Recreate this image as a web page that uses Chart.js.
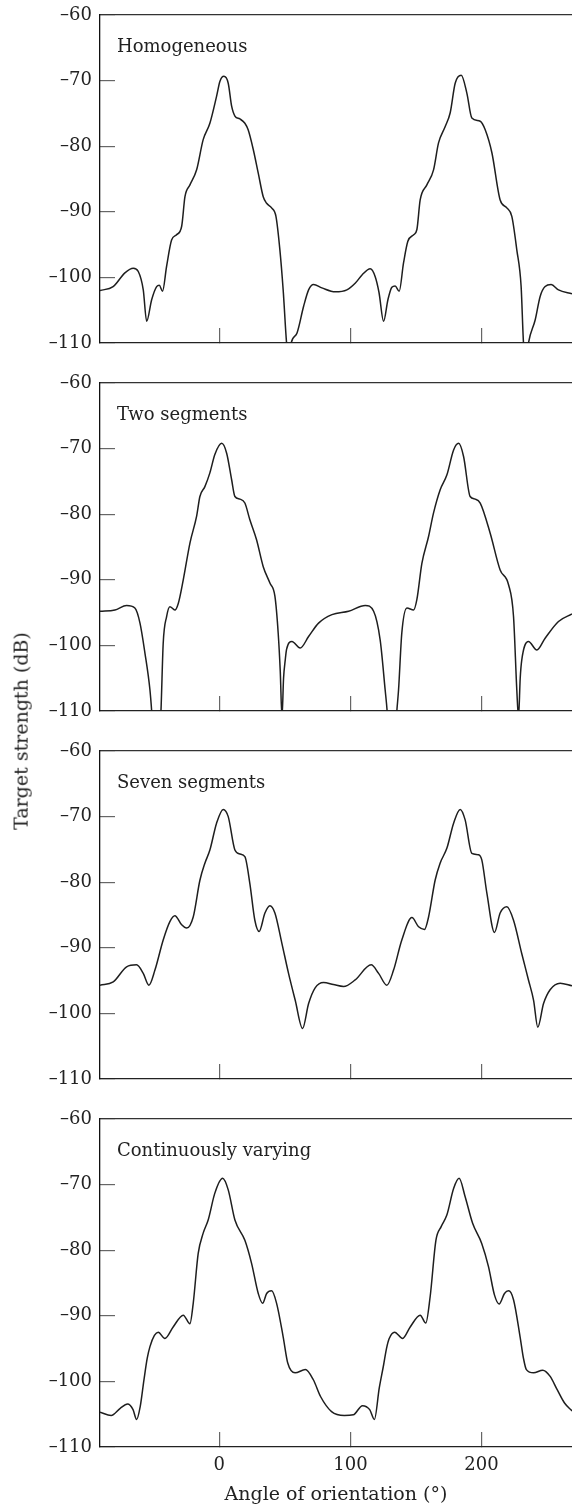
<!DOCTYPE html>
<html>
<head>
<meta charset="utf-8">
<script src="https://cdn.jsdelivr.net/npm/chart.js@4/dist/chart.umd.min.js"></script>
<style>
html,body{margin:0;padding:0;background:#fff;}
#wrap{position:relative;width:572px;height:1506px;overflow:hidden;background:#fff;}
.panel{position:absolute;left:0;}
#ytitle{position:absolute;left:21px;top:731px;transform:translate(-50%,-50%) rotate(-90deg);font:19px "DejaVu Serif",serif;color:#222;white-space:nowrap;line-height:1.2;}
</style>
</head>
<body>
<div id="wrap">
<canvas id="c0" class="panel" width="572" height="368" style="top:0px"></canvas>
<canvas id="c1" class="panel" width="572" height="368" style="top:368px"></canvas>
<canvas id="c2" class="panel" width="572" height="368" style="top:736px"></canvas>
<canvas id="c3" class="panel" width="572" height="402" style="top:1104px"></canvas>
<div id="ytitle">Target strength (dB)</div>
</div>
<script>
// ---- data (angle in degrees, target strength in dB) ----
const panelTitles = ["Homogeneous", "Two segments", "Seven segments", "Continuously varying"];
const xTickValues = [0, 100, 200];
const xTickLabels = ["0", "100", "200"];
const yTickValues = [-110, -100, -90, -80, -70, -60];
const xTitle = "Angle of orientation (\u00B0)";

const angHomog = [-91,-81,-72,-65.6,-61.8,-58,-55.4,-51.6,-47.8,-45.8,-43.3,-40.2,-36.4,-32.6,-28.7,-26.2,-22.4,-17.3,-12.3,-7.2,-2.1,0.5,3.5,6.8,9.4,11.9,15.7,19.5,22,25.9,29.7,33.5,36.1,39.9,43.2,46.2,48.7,51.3,53,54.8,59.2,64.3,68.1,71.9,78.2,88.4,97.3,103.6,109,115.1,118.9,121.8,125.3,128.6,131.6,134.1,137.2,140.5,143.8,148.2,150.7,153.2,158.3,163.4,167.2,172.3,176.1,179.9,184.5,188.8,192.6,199,202.8,207.9,214.2,219.3,223.1,226.9,230.2,232,234,235.8,240.9,244.7,248.5,253.1,258.7,269];
const tsHomog  = [-102.0,-101.4,-99.3,-98.6,-99.1,-101.9,-106.7,-103.4,-101.4,-101.2,-102.1,-98.3,-94.3,-93.5,-92.2,-87.7,-85.9,-83.6,-79.0,-76.5,-72.4,-70.1,-69.35,-70.4,-73.9,-75.4,-75.85,-76.5,-77.5,-80.5,-84.1,-87.7,-88.7,-89.4,-90.7,-95.8,-101.9,-110,-113,-110,-108.5,-104.4,-101.9,-101.1,-101.6,-102.2,-101.9,-100.9,-99.6,-98.7,-99.9,-102.3,-106.7,-103.4,-101.5,-101.3,-102.1,-97.8,-94.5,-93.5,-92.7,-88.2,-85.9,-83.6,-79.5,-77.0,-74.9,-70.4,-69.2,-71.9,-75.7,-76.2,-77.5,-81.0,-88.2,-89.4,-90.7,-95.8,-101.4,-110,-113,-110,-106.5,-102.9,-101.4,-101.1,-101.9,-102.5];

const angTwo = [-91,-79.6,-70.7,-64.4,-60.5,-56.7,-52.9,-51.6,-48,-44.5,-42.8,-40.2,-37.7,-33.9,-31.3,-27.5,-22.4,-17.3,-14.8,-11,-7.2,-3.4,1.8,5.6,9.4,11.9,15.7,19.5,23.3,28.4,33.5,38.6,42.4,44.9,46.5,47.8,49,50.3,51.3,55.4,61.7,68.1,75.7,85.9,98.6,111.3,117.7,122.7,126.5,128,131.5,135.4,136.7,139.2,143.1,148.2,150.7,154.5,159.6,163.4,168.4,173.6,178.7,182.5,186.3,191.3,195.1,199,206.6,214.2,220.6,224.4,226.9,228.2,229.5,230.7,235.8,242.2,248.5,258.7,269];
const tsTwo  = [-94.8,-94.6,-93.9,-94.3,-96.6,-101.2,-106.8,-110,-122,-110,-99.7,-95.6,-94.1,-94.6,-93.6,-90.0,-84.4,-80.3,-77.3,-75.8,-73.7,-70.9,-69.2,-70.7,-74.75,-77.3,-77.7,-78.3,-80.85,-83.9,-88.0,-90.5,-92.5,-98.1,-104,-111,-105,-102.2,-100.6,-99.4,-100.4,-98.65,-96.6,-95.3,-94.8,-93.9,-94.8,-99.2,-106.8,-110,-122,-110,-106.8,-98.1,-94.3,-94.6,-93.0,-87.5,-83.4,-79.8,-76.3,-74.0,-70.2,-69.2,-71.2,-77.3,-77.7,-78.3,-82.9,-88.5,-90.75,-95.6,-106.8,-111,-105,-102.2,-99.4,-100.7,-98.9,-96.35,-95.2];

const angSeven = [-91,-80.9,-70.7,-63.1,-58,-53.7,-49.1,-42.8,-37.7,-33.9,-28.7,-24.9,-19.9,-14.8,-11,-7.2,-2.1,3,6.8,11.9,15.7,19.5,23.3,27.1,30.4,34.8,38.6,42.4,47.6,52.8,57.9,63.5,68.1,73.1,79.5,87,94.8,103.6,115.8,121.5,127.8,132.9,139.2,146.9,152,156.5,159.6,164.6,168.4,173.6,178.7,183.7,187.5,192.6,197.7,200.2,204.1,209.9,214.2,219.3,224.4,230.7,235.8,239.7,242.9,247.3,252.3,260,269];
const tsSeven  = [-95.7,-95.2,-92.9,-92.6,-93.9,-95.7,-93.4,-88.8,-86.0,-85.1,-86.5,-87.0,-85.3,-79.7,-77.1,-75.1,-71.0,-68.9,-70.0,-75.1,-75.7,-76.1,-80.2,-85.8,-87.5,-84.7,-83.6,-84.7,-89.2,-93.9,-98.0,-102.3,-98.5,-96.1,-95.3,-95.6,-95.9,-94.9,-92.6,-93.9,-95.7,-93.4,-88.8,-85.4,-86.8,-87.2,-85.3,-79.7,-77.1,-74.8,-71.0,-68.9,-70.5,-75.6,-75.8,-76.6,-81.7,-87.65,-84.7,-83.75,-85.8,-90.9,-94.9,-98.0,-102.1,-98.5,-96.4,-95.4,-95.8];

const angCont = [-91,-82.5,-75.6,-70,-65.8,-63.1,-60.3,-57.5,-55,-52.9,-49.5,-46.6,-41.5,-35.2,-27.5,-22.4,-19.9,-16.1,-12.3,-8.5,-3.4,2.5,6.8,11.9,19.5,24.6,29.7,33,36.1,39.9,43.7,48.7,52.2,57.8,65.6,71.7,77.2,85.6,95.3,102.2,109.2,114.7,118.3,122,125.3,127.5,129.5,133.7,139.8,145.6,153.2,157.5,160.8,165.2,169.2,173.6,178.7,182.9,187.5,193.2,200.2,205.3,209.9,213.4,217.5,220.6,224.4,229.4,232,234.2,239.7,246.7,252.2,257.8,263.3,269];
const tsCont  = [-104.7,-105.2,-104.1,-103.45,-104.3,-105.8,-103.8,-99.8,-96.5,-94.7,-93.0,-92.5,-93.45,-91.7,-89.9,-91.2,-88.1,-80.5,-77.4,-75.4,-71.3,-69.05,-70.8,-75.4,-78.5,-82.0,-86.6,-88.1,-86.6,-86.2,-88.1,-93.2,-97.2,-98.7,-98.2,-99.75,-102.3,-104.6,-105.2,-105.1,-103.7,-104.3,-105.8,-101.0,-97.5,-95.0,-93.5,-92.5,-93.45,-91.7,-89.9,-91.1,-87.1,-78.5,-76.4,-74.6,-70.6,-69.05,-71.85,-75.9,-79.0,-82.5,-86.85,-88.2,-86.6,-86.2,-87.55,-93.2,-96.5,-98.2,-98.7,-98.3,-99.2,-101.3,-103.3,-104.5];

const panels = [
  {id:"c0", ang:angHomog, ts:tsHomog, title:panelTitles[0]},
  {id:"c1", ang:angTwo,   ts:tsTwo,   title:panelTitles[1]},
  {id:"c2", ang:angSeven, ts:tsSeven, title:panelTitles[2]},
  {id:"c3", ang:angCont,  ts:tsCont,  title:panelTitles[3]}
];

// ---- styling ----
Chart.defaults.font.family = '"DejaVu Serif", serif';
Chart.defaults.font.size = 18;
Chart.defaults.color = '#222';

const panelLabel = {
  id: 'panelLabel',
  afterDraw(chart, args, opts) {
    const {ctx, chartArea} = chart;
    ctx.save();
    ctx.font = '18px "DejaVu Serif", serif';
    ctx.fillStyle = '#222';
    ctx.textAlign = 'left';
    ctx.textBaseline = 'alphabetic';
    ctx.fillText(opts.text, chartArea.left + 17, chartArea.top + 37);
    ctx.restore();
  }
};

function dash(v) { return v < 0 ? '\u2013' + Math.abs(v) : String(v); }
function noPad(s) { s.paddingTop = 0; s.paddingBottom = 0; s.paddingLeft = 0; s.paddingRight = 0; }

panels.forEach((p, idx) => {
  const isLast = idx === panels.length - 1;
  new Chart(document.getElementById(p.id), {
    type: 'line',
    data: {
      datasets: [{
        data: p.ang.map((a, i) => ({x: a, y: p.ts[i]})),
        borderColor: '#1e1e1e',
        borderWidth: 1.5,
        pointRadius: 0,
        fill: false,
        cubicInterpolationMode: 'monotone'
      }]
    },
    options: {
      responsive: false,
      animation: false,
      events: [],
      layout: {padding: 0},
      plugins: {
        legend: {display: false},
        tooltip: {enabled: false},
        panelLabel: {text: p.title}
      },
      scales: {
        x: {
          type: 'linear', position: 'bottom', min: -91, max: 269,
          afterBuildTicks: s => { s.ticks = xTickValues.map(v => ({value: v})); },
          afterFit: s => { s.height = isLast ? 59 : 25; noPad(s); },
          grid: {drawOnChartArea: false, drawTicks: true, tickLength: -15, color: '#666', lineWidth: 1.2},
          border: {display: true, color: '#222', width: 1.3},
          ticks: {display: isLast, padding: 23, maxRotation: 0, autoSkip: false, color: '#222',
                  callback: v => xTickLabels[xTickValues.indexOf(v)]},
          title: {display: isLast, text: xTitle, font: {size: 19}, color: '#222', padding: {top: 0, bottom: 0}}
        },
        xTop: {
          type: 'linear', position: 'top', min: -91, max: 269,
          afterFit: s => { s.height = 15; noPad(s); },
          grid: {display: true, drawOnChartArea: false, drawTicks: false},
          border: {display: true, color: '#333', width: 1.2},
          ticks: {display: false}
        },
        y: {
          type: 'linear', position: 'left', min: -110, max: -60,
          afterBuildTicks: s => { s.ticks = yTickValues.map(v => ({value: v})); },
          afterFit: s => { s.width = 100; noPad(s); },
          grid: {drawOnChartArea: false, drawTicks: true, tickLength: -15, color: '#666', lineWidth: 1.2},
          border: {display: true, color: '#111', width: 1.3},
          ticks: {padding: 23, color: '#222', callback: v => dash(v)}
        }
      }
    },
    plugins: [panelLabel]
  });
});
</script>
</body>
</html>
